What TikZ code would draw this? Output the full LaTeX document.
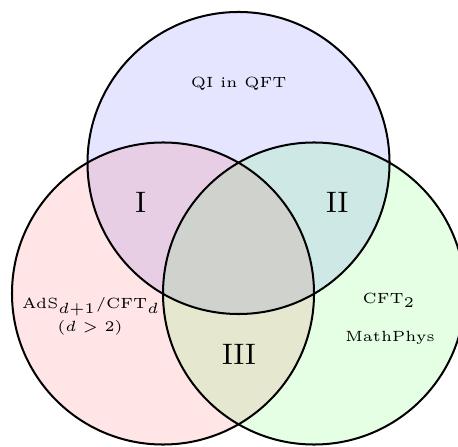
\documentclass[tikz,border=0pt]{standalone}
\begin{document}
\begin{tikzpicture}[x=0.338pt,y=-0.338pt,
    setfill/.style={fill opacity=0.1},
    rim/.style={draw=black,line width=0.68pt},
    area/.style={font=\tiny,inner sep=1pt},
    region/.style={font=\normalsize,inner sep=1pt}]
  \useasboundingbox (0,0) rectangle (458,446);
  \clip (0,0) rectangle (458,446);
  % centres of the three sets
  \coordinate (qi)  at (238.5,163);
  \coordinate (ads) at (163,293.5);
  \coordinate (cft) at (314,293.5);
  \def\rad{51.04pt}
  % translucent fills
  \fill[blue,setfill]  (qi)  circle[radius=\rad];
  \fill[red,setfill]   (ads) circle[radius=\rad];
  \fill[green,setfill] (cft) circle[radius=\rad];
  % outlines
  \draw[rim] (qi)  circle[radius=\rad];
  \draw[rim] (ads) circle[radius=\rad];
  \draw[rim] (cft) circle[radius=\rad];
  % set labels
  \node[area] (lqi)   at (238.7,84)  {QI in QFT};
  \node[area] (lads)  at (91,307)    {AdS$_{d+1}$/CFT$_d$};
  \node[area] (ladsd) at (90,328)    {($d>2$)};
  \node[area] (lcft)  at (389,300.5) {CFT$_2$};
  \node[area] (lmp)   at (390,338)   {MathPhys};
  % overlap labels
  \node[region] (r1) at (140.7,202) {I};
  \node[region] (r2) at (337.3,202) {II};
  \node[region] (r3) at (239,354)   {III};
\end{tikzpicture}
\end{document}
